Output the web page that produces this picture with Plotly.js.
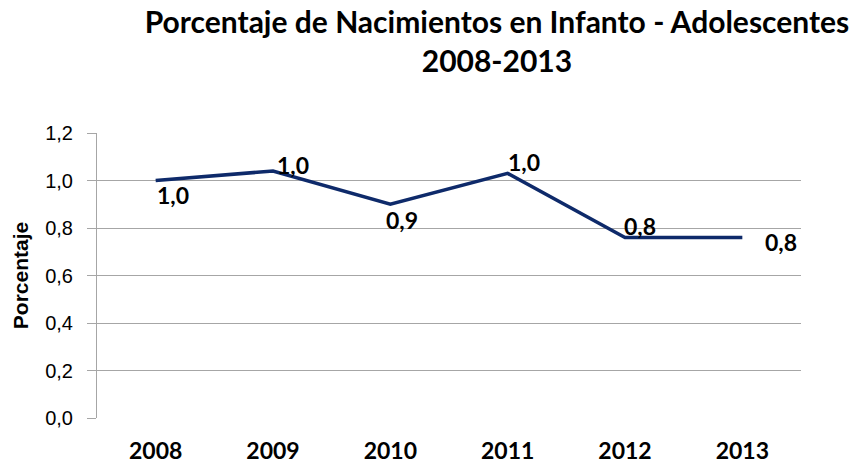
<!DOCTYPE html>
<html>
<head>
<meta charset="utf-8">
<script src="https://cdn.plot.ly/plotly-3.0.1.min.js"></script>
<style>html,body{margin:0;padding:0;background:#fff;}#chart{width:851px;height:465px;}</style>
</head>
<body>
<div id="chart"></div>
<script>
var years = ["2008", "2009", "2010", "2011", "2012", "2013"];
var porcentaje = [1.00, 1.04, 0.90, 1.03, 0.76, 0.76];
var yTicks = [0, 0.2, 0.4, 0.6, 0.8, 1.0, 1.2];
var labelShiftX = [17, 20, 12, 16, 15, 39];
var labelShiftY = [-14, 6, -16, 11, 12, -4];

function fmt(v) { return v.toFixed(1).replace(".", ","); }

var annotations = years.map(function (yr, i) {
  return {
    x: i, y: porcentaje[i], xref: "x", yref: "y",
    text: "<b>" + fmt(porcentaje[i]) + "</b>", showarrow: false,
    xshift: labelShiftX[i], yshift: labelShiftY[i],
    font: {family: "Lato, sans-serif", size: 23, color: "#000"}
  };
});

var trace = {
  x: years, y: porcentaje, type: "scatter", mode: "lines",
  line: {color: "#0E2A6A", width: 3.5},
  hoverinfo: "skip"
};

var layout = {
  width: 851, height: 465,
  margin: {l: 97, r: 50, t: 133, b: 47},
  paper_bgcolor: "#fff", plot_bgcolor: "#fff",
  separators: ", ",
  showlegend: false,
  title: {
    text: "<b>Porcentaje de Nacimientos en Infanto - Adolescentes<br>2008-2013</b>",
    font: {family: "Lato, sans-serif", size: 30, color: "#000"},
    x: 0.584, xref: "container", xanchor: "center",
    y: 0.929, yref: "container", yanchor: "top"
  },
  xaxis: {
    type: "category",
    categoryarray: years, categoryorder: "array",
    range: [-0.5, years.length - 0.5],
    showgrid: false, zeroline: false, showline: false,
    ticks: "",
    tickfont: {family: "Lato, sans-serif", size: 23, color: "#000", weight: "bold"},
    ticklabelstandoff: 17
  },
  yaxis: {
    range: [0, 1.2],
    tickvals: yTicks,
    tickformat: ".1f",
    showgrid: true, gridcolor: "#A6A6A6", gridwidth: 1,
    zeroline: false,
    showline: true, linecolor: "#A6A6A6", linewidth: 1,
    ticks: "outside", ticklen: 9, tickcolor: "#A6A6A6",
    ticklabelstandoff: 10,
    tickfont: {family: "Liberation Sans, Arial, sans-serif", size: 20, color: "#000"},
    title: {
      text: "<b>Porcentaje</b>",
      font: {family: "Liberation Sans, Arial, sans-serif", size: 21, color: "#000"},
      standoff: 10
    }
  },
  annotations: annotations
};

Plotly.newPlot("chart", [trace], layout, {displayModeBar: false, staticPlot: true});
</script>
</body>
</html>
